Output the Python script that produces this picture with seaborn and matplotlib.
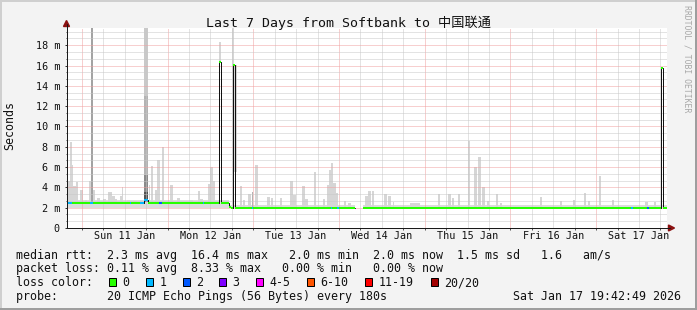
import numpy as np
import pandas as pd
import seaborn as sns
import matplotlib
matplotlib.use("Agg")
import matplotlib.pyplot as plt
from matplotlib.patches import Rectangle, Polygon

NaN = np.nan

# ---------------- data ----------------
# time in hours after Sat 10 Jan 2026 00:00, values in milliseconds
t_first, t_last = 19.714, 187.714
day_labels = ["Sun 11 Jan", "Mon 12 Jan", "Tue 13 Jan", "Wed 14 Jan",
              "Thu 15 Jan", "Fri 16 Jan", "Sat 17 Jan"]
y_tick_values = [0, 2, 4, 6, 8, 10, 12, 14, 16, 18]

# median rtt as steps: segment i spans med_time[i] .. med_time[i+1]
med_time = [19.714, 41.47, 42.59, 62.47, 63.11, 65.27, 65.83, 66.31, 66.76,
            100.63, 102.79, 186.11, 186.75, 187.714]
med_value = [2.5, 2.75, 2.5, 16.4, 2.5, 2.05, 2.0, 16.1, 2.0, NaN, 2.0, 15.8, 2.0]

# packet loss (pings lost of 20) where it is not zero
loss_start = [20.19, 26.35, 37.41, 40.35, 41.47, 45.67, 57.85, 71.57, 93.69, 95.51, 177.83, 182.31]
loss_end = [21.31, 27.19, 37.83, 41.47, 42.59, 46.51, 58.27, 71.99, 94.11, 96.07, 178.39, 182.87]
loss_level = [1, 1, 1, 1, 1, 2, 1, 1, 1, 1, 1, 2]

# smoke: continuous band just above the median
band_start = [19.714, 65.27, 102.79]
band_end = [65.27, 100.63, 187.714]
band_top = [2.75, 2.3, 2.25]

# smoke spikes (max rtt of a step)
smoke_start = [20.19, 20.75, 21.31, 21.59, 22.43, 23.55, 24.95, 26.07, 27.19, 28.31,
               29.99, 31.39, 32.51, 33.35, 34.75, 35.31, 36.71, 38.39, 40.35, 41.47,
               42.87, 43.43, 44.55, 45.11, 46.51, 48.75, 50.71, 54.35, 56.59, 57.15,
               59.39, 59.95, 60.79, 62.47, 66.11, 66.67, 68.35, 69.19, 70.59, 72.55,
               75.91, 77.03, 79.55, 82.35, 83.19, 85.71, 86.55, 89.07, 91.59, 92.71,
               93.27, 93.83, 94.39, 95.23, 97.47, 98.59, 103.35, 104.19, 105.31, 108.67,
               109.79, 111.19, 115.95, 123.79, 126.59, 127.71, 129.39, 132.19, 133.87, 134.99,
               136.11, 137.51, 140.03, 141.15, 152.35, 157.95, 161.59, 164.67, 165.79, 168.87,
               172.51, 181.75, 184.15]
smoke_end = [20.75, 21.31, 21.59, 22.43, 22.99, 24.39, 25.51, 26.63, 27.75, 29.15,
             30.83, 32.51, 33.35, 33.91, 35.31, 35.59, 37.55, 39.51, 41.19, 42.59,
             43.15, 43.99, 45.11, 45.95, 47.07, 49.59, 51.55, 55.19, 57.15, 57.99,
             59.95, 60.79, 61.35, 63.03, 66.67, 67.51, 68.91, 69.75, 71.43, 73.39,
             76.75, 77.59, 80.11, 83.19, 84.03, 86.55, 87.39, 89.63, 92.15, 93.27,
             93.83, 94.39, 95.23, 95.79, 98.03, 99.43, 104.19, 105.03, 105.87, 109.51,
             110.63, 111.47, 118.75, 124.35, 127.43, 128.27, 129.95, 132.75, 134.71, 135.83,
             136.95, 138.07, 140.59, 141.71, 152.91, 158.51, 162.15, 165.23, 166.35, 169.43,
             173.07, 182.59, 184.71]
smoke_top = [4.6, 8.5, 6.2, 4.1, 4.5, 3.7, 2.8, 4.6, 3.7, 2.95,
             2.9, 3.5, 3.2, 2.9, 3.2, 4.0, 2.8, 2.7, 2.75, 5.2,
             4.2, 6.1, 3.7, 6.7, 8.0, 4.2, 2.95, 2.75, 3.6, 2.9,
             4.3, 6.0, 4.6, 18.3, 19.7, 5.5, 4.1, 2.8, 3.3, 6.2,
             3.05, 3.0, 3.0, 4.6, 3.25, 4.1, 2.9, 5.5, 2.85, 4.2,
             5.7, 6.4, 4.4, 3.4, 2.7, 2.5, 3.2, 3.6, 3.65, 3.35,
             3.15, 2.6, 2.5, 3.35, 3.35, 3.0, 3.35, 8.6, 6.0, 7.0,
             4.05, 2.7, 3.35, 2.5, 3.05, 2.7, 2.8, 3.4, 2.7, 5.1,
             2.8, 2.6, 2.6]

# dense smoke (many pings spread high)
dense_start = [26.63, 41.47, 41.47, 41.47, 41.47, 71.71]
dense_end = [27.19, 42.59, 42.59, 42.59, 42.59, 71.99]
dense_bottom = [2.6, 2.6, 3.5, 5.2, 13.0, 2.1]
dense_top = [19.7, 3.5, 5.2, 13.0, 19.7, 3.5]
dense_shade = [0.64, 0.32, 0.54, 0.70, 0.79, 0.70]

legend_rows = [
    "median rtt:  2.3 ms avg  16.4 ms max   2.0 ms min  2.0 ms now  1.5 ms sd   1.6   am/s",
    "packet loss: 0.11 % avg  8.33 % max   0.00 % min   0.00 % now",
    "loss color:",
    "probe:       20 ICMP Echo Pings (56 Bytes) every 180s",
]
loss_labels = ["0", "1", "2", "3", "4-5", "6-10", "11-19", "20/20"]
loss_colors = ["#26ff00", "#00b8ff", "#0059ff", "#7e00ff", "#ff00ff", "#ff5500", "#ff0000", "#a10000"]
stamp = "Sat Jan 17 19:42:49 2026"
title = "Last 7 Days from Softbank to 中国联通"

# ---------------- drawing ----------------
sns.set_theme(style="white")
MONO = ["DejaVu Sans Mono", "Noto Sans CJK SC"]
plt.rcParams["font.family"] = MONO

W, H = 697, 310
PX = 0.72  # points per pixel
LEG_FS = 8.4
fig = plt.figure(figsize=(W / 100, H / 100), dpi=100)
fig.patch.set_facecolor("#f3f3f3")


def fx(x):
    return x / W


def fy(y):
    return 1 - y / H


L, R, T, B = 66.5, 666.5, 28, 228
ax = fig.add_axes([fx(L), fy(B), (R - L) / W, (B - T) / H])
ax.set_facecolor("white")
ax.set_xlim(t_first, t_last)
ax.set_ylim(0, 19.7)
for s in ax.spines.values():
    s.set_visible(False)


def median_at(t):
    for i in range(len(med_value)):
        if med_time[i] <= t < med_time[i + 1]:
            return med_value[i]
    return med_value[-1]


# smoke band
for s0, s1, top in zip(band_start, band_end, band_top):
    ax.bar(s0, top - 2.0, width=s1 - s0, bottom=2.0, align="edge",
           color="#dcdcdc", linewidth=0, zorder=1)
# smoke spikes
for s0, s1, top in zip(smoke_start, smoke_end, smoke_top):
    base = median_at(s0)
    if np.isnan(base):
        base = 2.0
    ax.bar(s0, top - base, width=s1 - s0, bottom=base, align="edge",
           color="#d6d6d6", linewidth=0, zorder=1)
for s0, s1, b0, b1, g in zip(dense_start, dense_end, dense_bottom, dense_top, dense_shade):
    ax.bar(s0, b1 - b0, width=s1 - s0, bottom=b0, align="edge",
           color=(g, g, g), linewidth=0, zorder=1.2)

# grid
MAJ, MIN_ = "#f0a0a0", "#c8c8c8"
for h in range(24, 188, 6):
    ax.axvline(h, color=MAJ if h % 24 == 0 else MIN_, lw=PX, ls=(0, (1, 1)), zorder=2)
for k in range(1, 30):
    v = k * 2 / 3
    ax.axhline(v, color=MAJ if k % 3 == 0 else MIN_, lw=PX, ls=(0, (1, 1)), zorder=2)

# median line (black steps)
rows = []
run = 0
for i, v in enumerate(med_value):
    if np.isnan(v):
        run += 1
        continue
    rows.append((med_time[i], v, run))
    rows.append((med_time[i + 1], v, run))
df = pd.DataFrame(rows, columns=["t", "v", "run"])
sns.lineplot(data=df, x="t", y="v", units="run", estimator=None, sort=False,
             color="#111111", lw=PX * 1.0, ax=ax, legend=False, zorder=3)
# loss-coloured median
ok = [i for i, v in enumerate(med_value) if not np.isnan(v)]
ax.hlines([med_value[i] for i in ok], [med_time[i] for i in ok], [med_time[i + 1] for i in ok],
          color=loss_colors[0], lw=PX * 2, zorder=4)
ax.hlines([median_at(s) for s in loss_start], loss_start, loss_end,
          color=[loss_colors[l] for l in loss_level], lw=PX * 2, zorder=5)

ax.set_xlabel("")
ax.set_ylabel("")

# ticks
ax.set_yticks(y_tick_values)
ax.set_yticklabels(["0" if v == 0 else f"{v} m" for v in y_tick_values])
ax.set_yticks([k * 2 / 3 for k in range(1, 30) if k % 3], minor=True)
ax.tick_params(axis="y", which="major", length=2.5 * PX, width=PX, color="#333333",
               pad=4 * PX, labelsize=7.3, labelcolor="#111111", left=True)
ax.tick_params(axis="y", which="minor", length=1.5 * PX, width=PX, color="#555555", left=True)
ax.set_xticks([36 + 24 * i for i in range(7)])
ax.set_xticklabels(day_labels)
ax.set_xticks(list(range(24, 188, 6)), minor=True)
ax.tick_params(axis="x", which="major", length=0, pad=3.2 * PX, labelsize=7.3, labelcolor="#111111")
ax.tick_params(axis="x", which="minor", length=2 * PX, width=PX, color="#555555", bottom=True)
for lab in ax.get_xticklabels() + ax.get_yticklabels():
    lab.set_family("DejaVu Sans Mono")

# axes lines with arrows
fig.add_artist(plt.Line2D([fx(L), fx(670)], [fy(B), fy(B)], color="#1a1a1a", lw=PX))
fig.add_artist(plt.Line2D([fx(L), fx(L)], [fy(B), fy(24)], color="#1a1a1a", lw=PX))
AR = "#8b1010"
fig.add_artist(Polygon([[fx(L - 3), fy(26.5)], [fx(L + 3), fy(26.5)], [fx(L), fy(20.5)]],
                       closed=True, color=AR, transform=fig.transFigure))
fig.add_artist(Polygon([[fx(668.5), fy(B - 3)], [fx(668.5), fy(B + 3)], [fx(674.5), fy(B)]],
                       closed=True, color=AR, transform=fig.transFigure))

# title and labels
fig.text(fx(348), fy(22.5), title, ha="center", va="center", fontsize=9.5,
         family=MONO, color="#111111")
fig.text(fx(10), fy(126), "Seconds", rotation=90, ha="center", va="center",
         fontsize=LEG_FS, color="#111111")
fig.text(fx(687.5), fy(59), "RRDTOOL / TOBI OETIKER", rotation=270, ha="center",
         va="center", fontsize=5.9, color="#a8a8a8")

# legend rows
baselines = [258.5, 272.3, 286.2, 300.0]
for txt, yb in zip(legend_rows, baselines):
    fig.text(fx(15.5), fy(yb), txt, ha="left", va="baseline", fontsize=LEG_FS, color="#111111")
fig.text(fx(681), fy(baselines[3]), stamp, ha="right", va="baseline", fontsize=LEG_FS, color="#111111")
box_x = [109, 145.7, 182.7, 219.3, 256, 307.3, 365, 430.7]
lab_x = [122.5, 159.2, 196, 232.6, 269.5, 320.7, 378.5, 444.2]
for bx, lx, lab, col in zip(box_x, lab_x, loss_labels, loss_colors):
    fig.add_artist(Rectangle((fx(bx), fy(286.3)), 7 / W, 8 / H, transform=fig.transFigure,
                             facecolor=col, edgecolor="#000000", lw=PX))
    fig.text(fx(lx), fy(baselines[2]), lab, ha="left", va="baseline", fontsize=LEG_FS, color="#111111")

# 3-D frame
fig.add_artist(Rectangle((0, fy(2)), 1, 2 / H, transform=fig.transFigure, color="#cfcfcf", lw=0))
fig.add_artist(Rectangle((0, 0), 2 / W, 1, transform=fig.transFigure, color="#cfcfcf", lw=0))
fig.add_artist(Rectangle((0, 0), 1, 2 / H, transform=fig.transFigure, color="#9e9e9e", lw=0))
fig.add_artist(Rectangle((fx(W - 2), 0), 2 / W, 1, transform=fig.transFigure, color="#9e9e9e", lw=0))

fig.savefig("out.png", dpi=100, facecolor=fig.get_facecolor())
